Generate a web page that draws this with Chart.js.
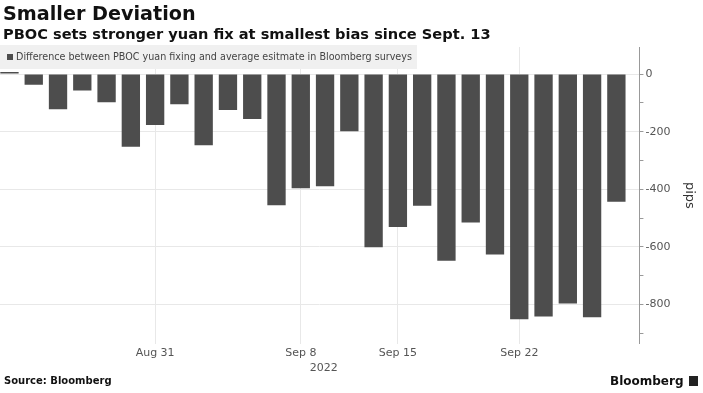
<!DOCTYPE html>
<html>
<head>
<meta charset="utf-8">
<script src="https://cdn.jsdelivr.net/npm/chart.js@4.4.1/dist/chart.umd.min.js"></script>
<style>
  html, body { margin: 0; padding: 0; background: #fff; }
  #wrap { position: relative; width: 703px; height: 393px; overflow: hidden; font-family: "DejaVu Sans", sans-serif; }
  #chart { position: absolute; left: 0; top: 0; }
  .title { position: absolute; left: 3px; top: 2px; font-size: 19.2px; font-weight: bold; color: #111; }
  .subtitle { position: absolute; left: 3px; top: 25px; font-size: 14.6px; font-weight: bold; color: #111; }
  .legend { position: absolute; left: 0; top: 45px; width: 417px; height: 24px; background: #f0f0f0; font-size: 9.6px; color: #444; line-height: 24px; white-space: nowrap; }
  .legend span.sq { display: inline-block; width: 6px; height: 6px; background: #4d4d4d; margin: 0 3px 0 7px; }
  .source { position: absolute; left: 4px; top: 375px; font-size: 10px; font-weight: bold; color: #111; }
  .logo { position: absolute; left: 610px; top: 374px; font-size: 12px; font-weight: bold; color: #111; }
  .logo span.ic { display: inline-block; width: 9px; height: 10px; background: #222; margin-left: 5px; vertical-align: -1px; }
</style>
</head>
<body>
<div id="wrap">
  <canvas id="chart" width="703" height="393"></canvas>
  <div class="title">Smaller Deviation</div>
  <div class="subtitle">PBOC sets stronger yuan fix at smallest bias since Sept. 13</div>
  <div class="legend"><span class="sq"></span>Difference between PBOC yuan fixing and average esitmate in Bloomberg surveys</div>
  <div class="source">Source: Bloomberg</div>
  <div class="logo">Bloomberg<span class="ic"></span></div>
</div>
<script>
// trading days shown on the chart
const dates = ['Aug 23', 'Aug 24', 'Aug 25', 'Aug 26', 'Aug 29', 'Aug 30', 'Aug 31', 'Sep 1', 'Sep 2',
  'Sep 5', 'Sep 6', 'Sep 7', 'Sep 8', 'Sep 9', 'Sep 13', 'Sep 14', 'Sep 15', 'Sep 16',
  'Sep 19', 'Sep 20', 'Sep 21', 'Sep 22', 'Sep 23', 'Sep 26', 'Sep 27', 'Sep 28'];

// difference between fixing and estimate, pips
const deviation = [7, -37, -122, -57, -98, -252, -177, -105, -247, -125, -156, -455, -396, -389,
  -198, -601, -531, -457, -648, -515, -626, -851, -841, -796, -844, -443];

const tickDates = ['Aug 31', 'Sep 8', 'Sep 15', 'Sep 22'];
const yearLabel = '2022';
const yearAt = 'Sep 8';

const FONT = '"DejaVu Sans", sans-serif';

// draws the year under the Sep 8 label
const yearPlugin = {
  id: 'yearLabel',
  afterDraw(chart) {
    const x = chart.scales.x;
    const ctx = chart.ctx;
    ctx.save();
    ctx.font = '11px ' + FONT;
    ctx.fillStyle = '#555';
    ctx.textAlign = 'center';
    ctx.textBaseline = 'middle';
    ctx.fillText(yearLabel, x.getPixelForValue(dates.indexOf(yearAt)) + 23, x.top + 24);
    ctx.restore();
  }
};

new Chart(document.getElementById('chart'), {
  type: 'bar',
  data: {
    datasets: [{
      label: 'Difference between PBOC yuan fixing and average esitmate in Bloomberg surveys',
      data: deviation.map((v, i) => ({ x: i, y: v })),
      backgroundColor: '#4d4d4d',
      borderWidth: 0,
      barPercentage: 0.755,
      categoryPercentage: 1
    }]
  },
  options: {
    responsive: false,
    animation: false,
    layout: { padding: { top: 47, bottom: 30, left: 0, right: 0 } },
    plugins: { legend: { display: false }, tooltip: { enabled: false } },
    scales: {
      x: {
        type: 'linear',
        offset: false,
        min: -0.39,
        max: 25.95,
        afterBuildTicks(scale) {
          scale.ticks = tickDates.map(d => ({ value: dates.indexOf(d) }));
        },
        ticks: {
          callback: v => dates[v],
          color: '#555',
          font: { family: FONT, size: 11 },
          padding: 3,
          maxRotation: 0,
          autoSkip: false
        },
        grid: { color: '#e8e8e8', drawTicks: false, offset: false },
        border: { display: false }
      },
      y: {
        position: 'right',
        min: -936,
        max: 94,
        ticks: {
          stepSize: 100,
          includeBounds: false,
          callback: v => (v % 200 === 0 ? String(v) : ''),
          color: '#555',
          font: { family: FONT, size: 11 },
          padding: 2
        },
        grid: {
          color: c => (c.tick && c.tick.value % 200 === 0 ? '#e8e8e8' : 'rgba(0,0,0,0)'),
          tickColor: '#999',
          tickLength: 4
        },
        border: { display: true, color: '#999' },
        title: {
          display: true,
          text: 'pips',
          color: '#333',
          font: { family: FONT, size: 13 },
          padding: { top: 6, bottom: 9 }
        }
      }
    }
  },
  plugins: [yearPlugin]
});
</script>
</body>
</html>
